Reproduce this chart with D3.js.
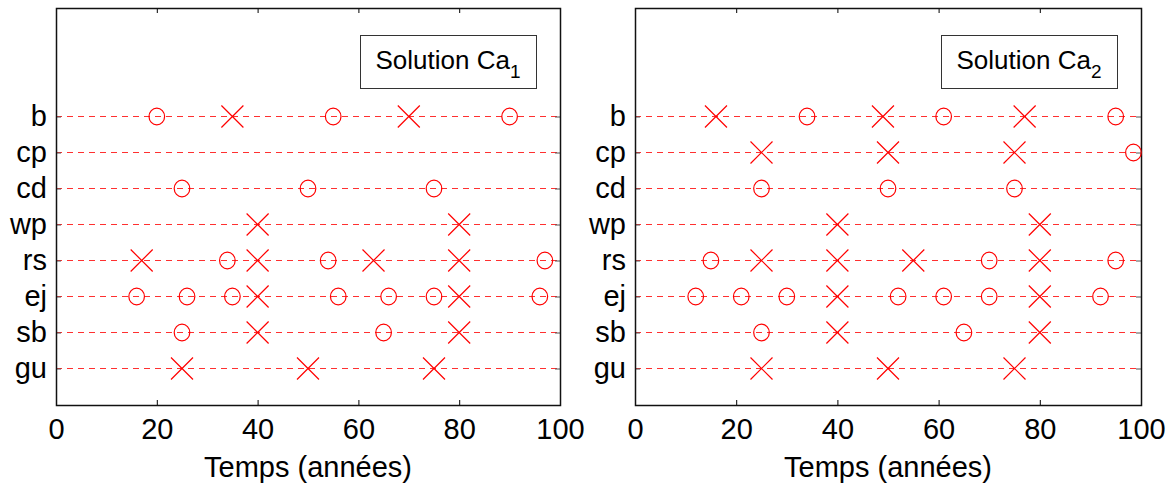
<!DOCTYPE html>
<html>
<head>
<meta charset="utf-8">
<script src="https://cdn.jsdelivr.net/npm/d3@7"></script>
<style>
  html, body { margin: 0; padding: 0; background: #fff; }
  svg { display: block; font-family: "Liberation Sans", Arial, sans-serif; }
</style>
</head>
<body>
<svg id="chart" width="1172" height="484"></svg>
<script>
// ---- data ----
const categories = ["gu", "sb", "ej", "rs", "wp", "cd", "cp", "b"]; // bottom to top
const xTicks = [0, 20, 40, 60, 80, 100];
const xLabel = "Temps (années)";

const ca1Circles = [
  ["b", 20], ["b", 55], ["b", 90],
  ["cd", 25], ["cd", 50], ["cd", 75],
  ["rs", 34], ["rs", 54], ["rs", 97],
  ["ej", 16], ["ej", 26], ["ej", 35], ["ej", 56], ["ej", 66], ["ej", 75], ["ej", 96],
  ["sb", 25], ["sb", 65]
];
const ca1Crosses = [
  ["b", 35], ["b", 70],
  ["wp", 40], ["wp", 80],
  ["rs", 17], ["rs", 40], ["rs", 63], ["rs", 80],
  ["ej", 40], ["ej", 80],
  ["sb", 40], ["sb", 80],
  ["gu", 25], ["gu", 50], ["gu", 75]
];
const ca2Circles = [
  ["b", 34], ["b", 61], ["b", 95],
  ["cp", 98.5],
  ["cd", 25], ["cd", 50], ["cd", 75],
  ["rs", 15], ["rs", 70], ["rs", 95],
  ["ej", 12], ["ej", 21], ["ej", 30], ["ej", 52], ["ej", 61], ["ej", 70], ["ej", 92],
  ["sb", 25], ["sb", 65]
];
const ca2Crosses = [
  ["b", 16], ["b", 49], ["b", 77],
  ["cp", 25], ["cp", 50], ["cp", 75],
  ["wp", 40], ["wp", 80],
  ["rs", 25], ["rs", 40], ["rs", 55], ["rs", 80],
  ["ej", 40], ["ej", 80],
  ["sb", 40], ["sb", 80],
  ["gu", 25], ["gu", 50], ["gu", 75]
];

const panels = [
  { left: 56, right: 560, sub: "1", circles: ca1Circles, crosses: ca1Crosses },
  { left: 635, right: 1141, sub: "2", circles: ca2Circles, crosses: ca2Crosses }
];

const plotTop = 8, plotBottom = 405;
const svg = d3.select("#chart");
const fontSize = 29;
const ff = "Liberation Sans, Arial, sans-serif";

panels.forEach(p => {
  const x = d3.scaleLinear().domain([0, 100]).range([p.left, p.right]);
  const y = d3.scaleLinear().domain([0, 11]).range([404, 8]);
  const catY = c => Math.round(y(categories.indexOf(c) + 1)) + 0.5;
  const g = svg.append("g");

  // dashed category lines
  g.append("g").selectAll("line").data(categories).join("line")
    .attr("x1", x(0)).attr("x2", x(100))
    .attr("y1", c => catY(c)).attr("y2", c => catY(c))
    .style("stroke", "#ff3030").style("stroke-width", "1px")
    .style("shape-rendering", "crispEdges")
    .style("stroke-dasharray", "6,5");

  // bottom axis
  const xAxis = d3.axisBottom(x).tickValues(xTicks).tickSizeInner(-5).tickSizeOuter(0).tickPadding(13);
  const gx = g.append("g").attr("transform", `translate(0,${plotBottom})`).call(xAxis);
  gx.select(".domain").remove();
  gx.selectAll("line").attr("stroke", "#000");
  gx.selectAll("text").attr("font-size", fontSize).attr("font-family", ff).attr("fill", "#000");

  // top ticks
  const xTop = d3.axisTop(x).tickValues(xTicks).tickSizeInner(-5).tickSizeOuter(0).tickFormat("");
  const gxt = g.append("g").attr("transform", `translate(0,${plotTop})`).call(xTop);
  gxt.select(".domain").remove();
  gxt.selectAll("line").attr("stroke", "#000");

  // left axis
  const yAxis = d3.axisLeft(y).tickValues(d3.range(1, categories.length + 1))
    .tickFormat(d => categories[d - 1]).tickSizeInner(-5).tickSizeOuter(0).tickPadding(9);
  const gy = g.append("g").attr("transform", `translate(${p.left},0.5)`).call(yAxis);
  gy.select(".domain").remove();
  gy.selectAll("line").attr("stroke", "#555");
  gy.selectAll("text").attr("font-size", fontSize).attr("font-family", ff).attr("fill", "#000");

  // right ticks
  const yRight = d3.axisRight(y).tickValues(d3.range(1, categories.length + 1))
    .tickSizeInner(-5).tickSizeOuter(0).tickFormat("");
  const gyr = g.append("g").attr("transform", `translate(${p.right},0.5)`).call(yRight);
  gyr.select(".domain").remove();
  gyr.selectAll("line").attr("stroke", "#555");

  // frame
  g.append("rect")
    .attr("x", p.left + 0.5).attr("y", plotTop + 0.5)
    .attr("width", p.right - p.left).attr("height", plotBottom - plotTop)
    .attr("fill", "none").attr("stroke", "#111").attr("stroke-width", 1.5);

  // circles
  g.append("g").selectAll("ellipse").data(p.circles).join("ellipse")
    .attr("cx", d => x(d[1])).attr("cy", d => catY(d[0]))
    .attr("rx", 7.8).attr("ry", 8.4)
    .attr("fill", "none").attr("stroke", "#ff0000").attr("stroke-width", 1.2);

  // crosses
  const s = 11;
  g.append("g").selectAll("path").data(p.crosses).join("path")
    .attr("d", d => {
      const cx = x(d[1]), cy = catY(d[0]);
      return `M${cx - s},${cy - s}L${cx + s},${cy + s}M${cx - s},${cy + s}L${cx + s},${cy - s}`;
    })
    .attr("fill", "none").attr("stroke", "#ff0000").attr("stroke-width", 1.2);

  // legend box
  const bw = 176, bh = 53;
  const bx = p.right - 24 - bw, by = 35;
  g.append("rect").attr("x", bx + 0.5).attr("y", by + 0.5).attr("width", bw).attr("height", bh)
    .attr("fill", "#fff").attr("stroke", "#333").attr("stroke-width", 1);
  const t = g.append("text").attr("x", bx + bw / 2).attr("y", by + 34)
    .attr("text-anchor", "middle").attr("font-size", 26).attr("font-family", ff).attr("fill", "#000");
  t.append("tspan").text("Solution Ca");
  t.append("tspan").attr("dy", 9).attr("font-size", 19).text(p.sub);

  // x label
  g.append("text").attr("x", (p.left + p.right) / 2).attr("y", 477)
    .attr("text-anchor", "middle").attr("font-size", fontSize).attr("font-family", ff).attr("fill", "#000").text(xLabel);
});
</script>
</body>
</html>
